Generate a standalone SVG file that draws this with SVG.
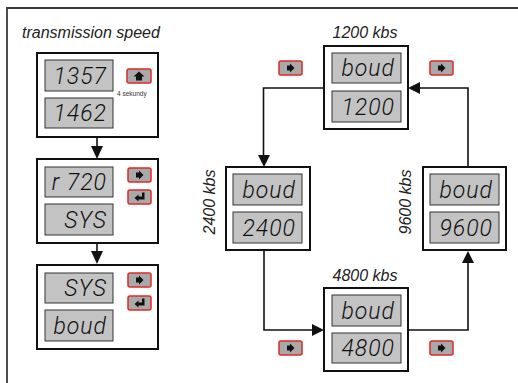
<svg xmlns="http://www.w3.org/2000/svg" width="518" height="383" viewBox="0 0 518 383">
<style>
.box{fill:#fff;stroke:#111;stroke-width:2}
.disp{fill:#c3c3c3;stroke:#333;stroke-width:1}
.seg{font-family:Roboto,"Liberation Sans",Arial,sans-serif;font-weight:300;font-style:italic;font-size:23px;fill:#111;text-anchor:end;letter-spacing:1px}
.btn{fill:#a9a9a9;stroke:#e02828;stroke-width:1.5}
.ico{fill:#111}
.lbl{font-family:"Liberation Sans",Arial,sans-serif;font-style:italic;font-size:16px;fill:#222}
.conn{fill:none;stroke:#111;stroke-width:1.6}
.head{fill:#111}
</style>
<defs>
<g id="bRight"><rect class="btn" x="0" y="0" width="23" height="14" rx="2"/><path class="ico" d="M8,4.5h3v-2l4.5,4.5l-4.5,4.5v-2h-3z"/></g>
<g id="bEnter"><rect class="btn" x="0" y="0" width="23" height="14" rx="2"/><path class="ico" d="M14,2.5h2.5v7h-6v2l-4,-3.5l4,-3.5v2h3.5z"/></g>
<g id="bUp"><rect class="btn" x="0" y="0" width="24" height="14" rx="2"/><path class="ico" d="M12,2.5l5.5,5h-2.5v4h-6v-4h-2.5z"/></g>
</defs>
<g id="frame"><path d="M7,383V8H518" fill="none" stroke="#3a3a3a" stroke-width="1.8"/></g>
<text class="lbl" x="22" y="38" font-size="16.5">transmission speed</text>
<g id="connectors">
<line class="conn" x1="97" y1="137" x2="97" y2="148"/>
<polygon class="head" points="91,146 103,146 97,159"/>
<line class="conn" x1="97" y1="243" x2="97" y2="252"/>
<polygon class="head" points="91,251 103,251 97,264"/>
<polyline class="conn" points="324,88 263.5,88 263.5,157"/>
<polygon class="head" points="258,155 270,155 264,167"/>
<polyline class="conn" points="264,250 264,330 314,330"/>
<polygon class="head" points="312,324 312,336 324,330"/>
<polyline class="conn" points="408,330 468,330 468,262"/>
<polygon class="head" points="462,263 474,263 468,251"/>
<polyline class="conn" points="468,167 468,88 418,88"/>
<polygon class="head" points="420,82 420,94 408,88"/>
</g>
<g id="node-1357">
<rect class="box" x="37" y="53" width="121" height="84"/>
<rect class="disp" x="45" y="60" width="68" height="31"/>
<text class="seg" x="107" y="84">1357</text>
<rect class="disp" x="45" y="98" width="68" height="30"/>
<text class="seg" x="107" y="121">1462</text>
<use href="#bUp" x="127" y="69"/>
<text x="117" y="96" font-family="Liberation Sans,Arial,sans-serif" font-size="6.5" fill="#333">4 sekundy</text>
</g>
<g id="node-r720">
<rect class="box" x="37" y="159" width="121" height="84"/>
<rect class="disp" x="45" y="167" width="68" height="30"/>
<text class="seg" x="107" y="190">r 720</text>
<rect class="disp" x="45" y="204" width="68" height="31"/>
<text class="seg" x="107" y="228">SYS</text>
<use href="#bRight" x="128" y="168"/>
<use href="#bEnter" x="128" y="190"/>
</g>
<g id="node-sys">
<rect class="box" x="37" y="265" width="121" height="84"/>
<rect class="disp" x="45" y="273" width="68" height="30"/>
<text class="seg" x="107" y="296">SYS</text>
<rect class="disp" x="45" y="310" width="68" height="31"/>
<text class="seg" x="107" y="334">boud</text>
<use href="#bRight" x="128" y="273"/>
<use href="#bEnter" x="128" y="296"/>
</g>
<g id="node-1200">
<text class="lbl" x="365" y="38" text-anchor="middle">1200 kbs</text>
<rect class="box" x="324" y="46" width="84" height="83"/>
<rect class="disp" x="332" y="53" width="69" height="30"/>
<text class="seg" x="395" y="76">boud</text>
<rect class="disp" x="332" y="91" width="69" height="31"/>
<text class="seg" x="395" y="115">1200</text>
</g>
<g id="node-2400">
<text class="lbl" transform="translate(215,202) rotate(-90)" text-anchor="middle">2400 kbs</text>
<rect class="box" x="226" y="167" width="84" height="83"/>
<rect class="disp" x="233" y="174" width="69" height="31"/>
<text class="seg" x="296" y="198">boud</text>
<rect class="disp" x="233" y="212" width="69" height="31"/>
<text class="seg" x="296" y="236">2400</text>
</g>
<g id="node-4800">
<text class="lbl" x="365" y="281" text-anchor="middle">4800 kbs</text>
<rect class="box" x="324" y="288" width="84" height="83"/>
<rect class="disp" x="332" y="295" width="69" height="31"/>
<text class="seg" x="395" y="319">boud</text>
<rect class="disp" x="332" y="333" width="69" height="30"/>
<text class="seg" x="395" y="356">4800</text>
</g>
<g id="node-9600">
<text class="lbl" transform="translate(411,202) rotate(-90)" text-anchor="middle">9600 kbs</text>
<rect class="box" x="423" y="167" width="83" height="83"/>
<rect class="disp" x="430" y="174" width="69" height="31"/>
<text class="seg" x="493" y="198">boud</text>
<rect class="disp" x="430" y="212" width="69" height="31"/>
<text class="seg" x="493" y="236">9600</text>
</g>
<g id="buttons">
<use href="#bRight" x="279" y="61"/>
<use href="#bRight" x="430" y="61"/>
<use href="#bRight" x="279" y="341"/>
<use href="#bRight" x="430" y="341"/>
</g>
</svg>
